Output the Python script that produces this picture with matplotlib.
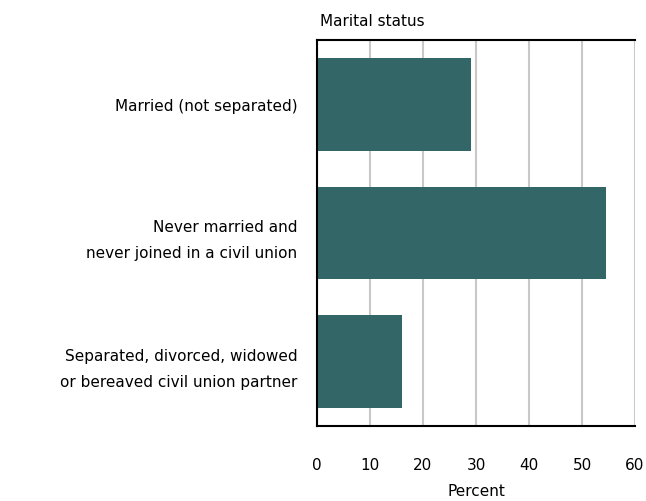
import matplotlib.pyplot as plt

# Data
categories = [
    'Married (not separated)',
    'Never married and\nnever joined in a civil union',
    'Separated, divorced, widowed\nor bereaved civil union partner',
]
percent = [29, 54.5, 16]
xticks = [0, 10, 20, 30, 40, 50, 60]

bar_color = '#336666'
font_size = 11

fig = plt.figure(figsize=(6.46, 5.02), dpi=100)
ax = fig.add_axes([317 / 646, 1 - 427 / 502, 318 / 646, 386 / 502])

ypos = list(range(len(categories)))
ax.barh(ypos, percent, height=0.72, color=bar_color, zorder=2)

ax.set_ylim(len(categories) - 0.5, -0.5)
ax.set_yticks(ypos)
ax.set_yticklabels(categories, fontsize=font_size, linespacing=1.9, ha='right')
ax.set_xlim(0, 60)
ax.set_xticks(xticks)
ax.set_xticklabels([str(t) for t in xticks], fontsize=font_size)

ax.tick_params(axis='x', length=0, pad=22)
ax.tick_params(axis='y', length=0, pad=14)

ax.grid(axis='x', color='#c8c8c8', linewidth=1.5, zorder=0)
ax.set_axisbelow(True)

for side in ['top', 'left', 'bottom']:
    ax.spines[side].set_color('black')
    ax.spines[side].set_linewidth(1.5)
ax.spines['right'].set_visible(False)

ax.set_xlabel('Percent', fontsize=font_size, labelpad=8)
fig.text(320 / 646, 1 - 22 / 502, 'Marital status', fontsize=font_size,
         ha='left', va='center')

plt.savefig('out.png', dpi=100)
